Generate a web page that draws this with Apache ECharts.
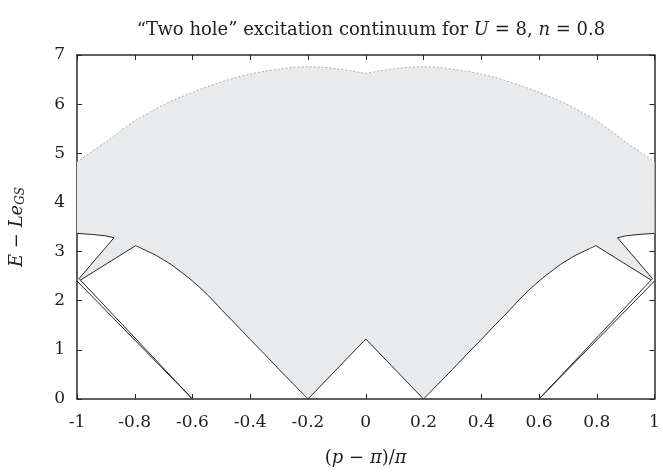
<!DOCTYPE html>
<html>
<head>
<meta charset="utf-8">
<script src="https://cdn.jsdelivr.net/npm/echarts@6/dist/echarts.min.js"></script>
<style>
  html, body { margin: 0; padding: 0; background: #fff; }
  #chart { width: 663px; height: 472px; }
</style>
</head>
<body>
<div id="chart"></div>
<script>
// Upper edge of the two-hole continuum, (p-pi)/pi vs E - L e_GS
const upperEdge = [
  [-1, 4.82], [-0.95, 5.03], [-0.9, 5.23], [-0.85, 5.45], [-0.8, 5.66],
  [-0.75, 5.83], [-0.7, 5.99], [-0.65, 6.12], [-0.6, 6.24], [-0.55, 6.35],
  [-0.5, 6.45], [-0.45, 6.54], [-0.4, 6.61], [-0.35, 6.67], [-0.3, 6.71],
  [-0.25, 6.75], [-0.2, 6.76], [-0.15, 6.75], [-0.1, 6.72], [-0.05, 6.68],
  [0, 6.63],
  [0.05, 6.68], [0.1, 6.72], [0.15, 6.75], [0.2, 6.76], [0.25, 6.75],
  [0.3, 6.71], [0.35, 6.67], [0.4, 6.61], [0.45, 6.54], [0.5, 6.45],
  [0.55, 6.35], [0.6, 6.24], [0.65, 6.12], [0.7, 5.99], [0.75, 5.83],
  [0.8, 5.66], [0.85, 5.45], [0.9, 5.23], [0.95, 5.03], [1, 4.82]
];

// Lower branches: straight legs at the zone edge and the curved arches
const leftLeg = [[-0.988, 2.42], [-0.797, 3.12]];
const leftArch = [
  [-0.797, 3.12], [-0.775, 3.06], [-0.75, 2.99], [-0.725, 2.92],
  [-0.7, 2.83], [-0.675, 2.74], [-0.65, 2.63], [-0.625, 2.52], [-0.6, 2.40],
  [-0.575, 2.27], [-0.55, 2.13], [-0.525, 1.98], [-0.5, 1.82], [-0.45, 1.52],
  [-0.4, 1.21], [-0.35, 0.91], [-0.3, 0.60], [-0.25, 0.30], [-0.2, 0]
];
const centerPeak = [[-0.2, 0], [0, 1.22], [0.2, 0]];
const rightArch = [
  [0.2, 0], [0.25, 0.30], [0.3, 0.60], [0.35, 0.91], [0.4, 1.21],
  [0.45, 1.52], [0.5, 1.82], [0.525, 1.98], [0.55, 2.13], [0.575, 2.27],
  [0.6, 2.40], [0.625, 2.52], [0.65, 2.63], [0.675, 2.74], [0.7, 2.83],
  [0.725, 2.92], [0.75, 2.99], [0.775, 3.06], [0.797, 3.12]
];
const rightLeg = [[0.797, 3.12], [0.988, 2.42]];

// Corner caps and the diagonals that run down to |x| = 0.6
const leftCap = [[-1, 3.37], [-0.95, 3.35], [-0.9, 3.32], [-0.872, 3.28], [-0.993, 2.45], [-0.6, 0]];
const rightCap = [[1, 3.37], [0.95, 3.35], [0.9, 3.32], [0.872, 3.28], [0.993, 2.45], [0.6, 0]];
const leftOuter = [[-1, 2.40], [-0.6, 0]];
const rightOuter = [[1, 2.40], [0.6, 0]];

// Axis ticks
const xTicks = { min: -1, max: 1, step: 0.2 };
const yTicks = { min: 0, max: 7, step: 1 };

// Outline of the shaded continuum, traced clockwise
const rev = a => a.slice().reverse();
const continuum = [].concat(
  upperEdge,
  rightCap.slice(0, 5),
  rev(rightLeg),
  rev(rightArch),
  rev(centerPeak),
  rev(leftArch),
  rev(leftLeg),
  rev(leftCap.slice(0, 5))
);

const serif = 'DejaVu Serif';
const textColor = '#1e1e1e';
const axisColor = '#2b2b2b';
const lineColor = '#262626';

const chart = echarts.init(document.getElementById('chart'), null, { renderer: 'canvas' });

const fmt = v => String(Math.round(v * 10) / 10);

const blackLine = (data, smooth) => ({
  type: 'line',
  data: data,
  showSymbol: false,
  symbol: 'none',
  silent: true,
  animation: false,
  smooth: smooth || false,
  lineStyle: { color: lineColor, width: 1 },
  z: 5
});

const italic = { fontFamily: serif, fontSize: 18, fontStyle: 'italic', color: textColor };

chart.setOption({
  animation: false,
  backgroundColor: '#ffffff',
  title: {
    text: '“Two hole” excitation continuum for {i|U} = 8, {i|n} = 0.8',
    left: 366,
    textAlign: 'center',
    top: 16,
    textStyle: {
      fontFamily: serif,
      fontSize: 18,
      fontWeight: 'normal',
      color: textColor,
      rich: { i: italic }
    }
  },
  grid: { left: 77, right: 8.5, top: 55, bottom: 64.5, containLabel: false },
  xAxis: [
    {
      type: 'value', min: xTicks.min, max: xTicks.max, interval: xTicks.step,
      position: 'bottom',
      name: '({i|p} − {i|π})/{i|π}',
      nameLocation: 'middle',
      nameGap: 50,
      nameTextStyle: { fontFamily: serif, fontSize: 18, color: textColor, rich: { i: italic } },
      axisLine: { show: true, onZero: false, lineStyle: { color: axisColor, width: 1.5 } },
      axisTick: { show: true, inside: true, length: 5, lineStyle: { color: axisColor, width: 1 } },
      axisLabel: { fontFamily: serif, fontSize: 17, color: textColor, margin: 15, formatter: fmt },
      splitLine: { show: false }
    },
    {
      type: 'value', min: xTicks.min, max: xTicks.max, interval: xTicks.step,
      position: 'top',
      axisLine: { show: true, onZero: false, lineStyle: { color: axisColor, width: 1.5 } },
      axisTick: { show: true, inside: true, length: 5, lineStyle: { color: axisColor, width: 1 } },
      axisLabel: { show: false },
      splitLine: { show: false }
    }
  ],
  yAxis: [
    {
      type: 'value', min: yTicks.min, max: yTicks.max, interval: yTicks.step,
      position: 'left',
      name: '{i|E} − {i|Le}{s|GS}',
      nameLocation: 'middle',
      nameGap: 50,
      nameRotate: 90,
      nameTextStyle: {
        fontFamily: serif, fontSize: 18, color: textColor,
        rich: {
          i: italic,
          s: { fontFamily: serif, fontSize: 12, fontStyle: 'italic', color: textColor, verticalAlign: 'bottom', padding: [8, 0, 0, 0] }
        }
      },
      axisLine: { show: true, onZero: false, lineStyle: { color: axisColor, width: 1.5 } },
      axisTick: { show: true, inside: true, length: 5, lineStyle: { color: axisColor, width: 1 } },
      axisLabel: { fontFamily: serif, fontSize: 17, color: textColor, margin: 12 },
      splitLine: { show: false }
    },
    {
      type: 'value', min: yTicks.min, max: yTicks.max, interval: yTicks.step,
      position: 'right',
      axisLine: { show: true, onZero: false, lineStyle: { color: axisColor, width: 1.5 } },
      axisTick: { show: true, inside: true, length: 5, lineStyle: { color: axisColor, width: 1 } },
      axisLabel: { show: false },
      splitLine: { show: false }
    }
  ],
  series: [
    {
      // shaded continuum
      type: 'custom',
      coordinateSystem: 'cartesian2d',
      silent: true,
      animation: false,
      clip: true,
      data: [[0, 0]],
      z: 1,
      renderItem: function (params, api) {
        const pts = continuum.map(p => api.coord(p));
        return {
          type: 'polygon',
          shape: { points: pts, smooth: 0 },
          style: { fill: '#e9eaeb', stroke: null }
        };
      }
    },
    {
      // dotted upper edge
      type: 'line',
      data: upperEdge,
      showSymbol: false,
      symbol: 'none',
      silent: true,
      animation: false,
      smooth: 0.3,
      lineStyle: { color: '#b0b0b0', width: 1, type: [2, 2] },
      z: 4
    },
    blackLine(leftLeg),
    blackLine(leftArch, 0.3),
    blackLine(centerPeak),
    blackLine(rightArch, 0.3),
    blackLine(rightLeg),
    blackLine(leftCap),
    blackLine(rightCap),
    blackLine(leftOuter),
    blackLine(rightOuter)
  ]
});
</script>
</body>
</html>
